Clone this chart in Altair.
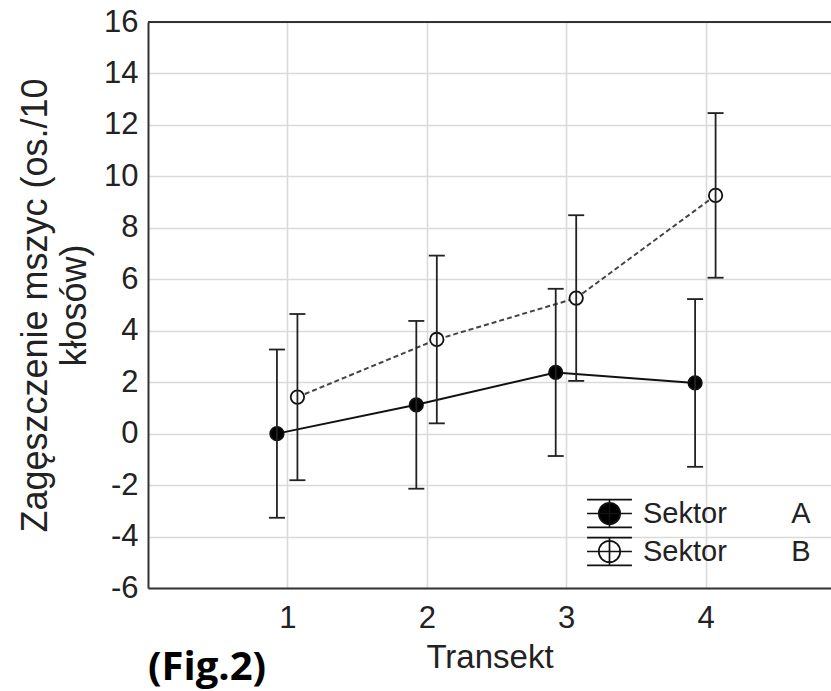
import altair as alt
import pandas as pd

# ---- data ----
transekt = [1, 2, 3, 4]
sektor_a_mean = [0.0, 1.12, 2.38, 1.97]
sektor_a_err = [3.27, 3.26, 3.25, 3.26]
sektor_b_mean = [1.42, 3.66, 5.27, 9.26]
sektor_b_err = [3.23, 3.26, 3.22, 3.20]
series = ["A", "B"]
y_ticks = [-6, -4, -2, 0, 2, 4, 6, 8, 10, 12, 14, 16]
x_ticks = [1, 2, 3, 4]

rows = []
for s, means, errs in [("A", sektor_a_mean, sektor_a_err), ("B", sektor_b_mean, sektor_b_err)]:
    for t, m, e in zip(transekt, means, errs):
        rows.append({"Transekt": t, "Sektor": s, "mean": m, "err": e})
df = pd.DataFrame(rows)

FONT = "Liberation Sans"
W, H = 683, 566

base = alt.Chart(df).transform_calculate(
    xpos="datum.Transekt + (datum.Sektor == 'A' ? -0.075 : 0.072)",
    lo="datum.mean - datum.err",
    hi="datum.mean + datum.err",
)

xscale = alt.Scale(domain=[0, 4.9], nice=False, zero=False)
yscale = alt.Scale(domain=[-6, 16], nice=False, zero=False)

x_enc = alt.X(
    "xpos:Q",
    scale=xscale,
    axis=alt.Axis(
        values=x_ticks, title="Transekt", format="d",
        labelFontSize=31, labelFont=FONT, labelColor="#222222", labelPadding=15,
        titleFontSize=33, titleFont=FONT, titleFontWeight="normal", titleColor="#222222",
        titlePadding=8, ticks=False, grid=True, gridColor="#dadada", gridWidth=1.6,
        domainColor="#333333", domainWidth=2,
    ),
)
y_enc = alt.Y(
    "mean:Q",
    scale=yscale,
    axis=alt.Axis(
        values=y_ticks, labelExpr="'' + datum.value",
        title=["Zagęszczenie mszyc (os./10", "kłosów)"],
        labelFontSize=31, labelFont=FONT, labelColor="#222222", labelPadding=10,
        titleFontSize=36, titleFont=FONT, titleFontWeight="normal", titleColor="#222222",
        titleLineHeight=39, titlePadding=10,
        ticks=False, grid=True, gridColor="#dadada", gridWidth=1.6,
        domainColor="#333333", domainWidth=2,
    ),
)

line_a = base.transform_filter("datum.Sektor == 'A'").mark_line(
    strokeWidth=2, color="#111111"
).encode(x=x_enc, y=y_enc)

line_b = base.transform_filter("datum.Sektor == 'B'").mark_line(
    strokeWidth=2, color="#444444", strokeDash=[5, 3]
).encode(x="xpos:Q", y="mean:Q")

legend_path = (
    "M-1.3,-0.81H1.3M-1.3,0H1.3M-1.3,0.81H1.3M0,-0.81V0.81"
    "M-0.62,0A0.62,0.62 0 1,0 0.62,0A0.62,0.62 0 1,0 -0.62,0Z"
)
label_expr = "'Sektor" + "\u00a0" * 8 + "' + datum.label"

points = base.mark_point(size=180, strokeWidth=1.8, stroke="#111111", opacity=1).encode(
    x="xpos:Q",
    y="mean:Q",
    fill=alt.Fill(
        "Sektor:N",
        scale=alt.Scale(domain=series, range=["#000000", "#ffffff"]),
        legend=alt.Legend(
            title=None, orient="none", legendX=443, legendY=473,
            symbolType=legend_path, symbolSize=1190, symbolStrokeColor="#111111",
            symbolStrokeWidth=1.7, symbolOpacity=1, padding=0, rowPadding=2,
            labelFontSize=29, labelFont=FONT, labelColor="#222222", labelOffset=15,
            labelLimit=400, labelExpr=label_expr,
        ),
    ),
)

bars = base.mark_rule(strokeWidth=1.8, color="#222222").encode(
    x="xpos:Q", y="lo:Q", y2="hi:Q"
)
cap_lo = base.mark_tick(orient="horizontal", size=16, thickness=1.8, color="#222222", opacity=1).encode(
    x="xpos:Q", y="lo:Q"
)
cap_hi = base.mark_tick(orient="horizontal", size=16, thickness=1.8, color="#222222", opacity=1).encode(
    x="xpos:Q", y="hi:Q"
)

top_frame = alt.Chart(pd.DataFrame({"top": [16]})).mark_rule(color="#333333", strokeWidth=2).encode(
    y=alt.Y("top:Q", scale=yscale)
)

chart = alt.layer(line_a, line_b, points, bars, cap_lo, cap_hi, top_frame).properties(
    width=W,
    height=H,
    autosize=alt.AutoSizeParams(type="none"),
    padding={"left": 148, "top": 22, "right": 0, "bottom": 103},
    title=alt.TitleParams(
        text="(Fig.2)", orient="bottom", anchor="start", frame="group",
        font="Open Sans", fontSize=40, fontWeight="bold", color="#000000",
        offset=-26, baseline="top",
    ),
).configure_view(stroke=None).configure(background="white")

chart.save("out.html", embed_options={"renderer": "svg", "actions": False})
